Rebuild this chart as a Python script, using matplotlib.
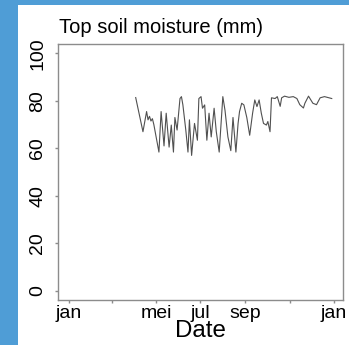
import numpy as np
import matplotlib
matplotlib.use('Agg')
import matplotlib.pyplot as plt
import matplotlib.patches as mpatches

# dag van het jaar (vanaf 1 jan) en bodemvocht bovenlaag (mm)
dag = [92, 102, 107, 109, 111, 113, 115, 117, 124, 127, 131, 134, 138, 141, 144,
       146, 149, 153, 155, 157, 161, 164, 166, 169, 173, 177, 179, 182, 184, 187,
       190, 193, 196, 200, 203, 207, 212, 215, 219, 223, 226, 230, 233, 235, 238,
       241, 245, 249, 253, 256, 259, 262, 265, 268, 272, 274, 277, 279, 284, 287,
       291, 293, 297, 303, 309, 314, 318, 323, 325, 330, 336, 341, 346, 352, 362]
vocht = [81.4, 67, 75.5, 72, 73.5, 71.5, 72.5, 70, 58.4, 75.5, 61, 74.8, 60.5, 69.8, 58.4,
         73, 67.7, 81, 81.8, 78.3, 67.7, 58.4, 72, 57, 70.5, 63.4, 81, 81.8, 76.9, 78.3,
         63.4, 74.8, 64.8, 76.9, 67, 58.4, 81.8, 76, 64.8, 59, 73, 58.4, 70.5, 75.5, 79,
         78.3, 73, 65.5, 74.8, 80.4, 77.6, 80.4, 74.8, 70.5, 69.8, 71.3, 67, 81.3, 81, 81.8,
         77.7, 81.3, 82, 81.5, 81.8, 81, 78.4, 77, 79, 82, 79, 78.4, 81.3, 81.8, 81]

maand_ticks = ['2019-01-01', '2019-03-01', '2019-05-01', '2019-07-01',
               '2019-09-01', '2019-11-01', '2020-01-01']
maand_labels = ['jan', '', 'mei', 'jul', 'sep', '', 'jan']
y_ticks = [0, 20, 40, 60, 80, 100]

start = np.datetime64('2019-01-01')
datums = start + np.array(dag).astype('timedelta64[D]')

W, H = 349, 345
fig = plt.figure(figsize=(W / 100, H / 100), dpi=100)
fig.patch.set_facecolor('#4f9dd6')
fig.patches.append(mpatches.Rectangle((18 / W, 0), 1, (H - 5) / H, transform=fig.transFigure,
                                      facecolor='white', edgecolor='none', zorder=-10))

ax = fig.add_axes([58 / W, 45 / H, (343 - 58) / W, (300 - 44) / H])
ax.set_zorder(5)
ax.set_facecolor('none')
ax.plot(datums, vocht, color='#505050', linewidth=0.8)

ax.set_xlim(start - np.timedelta64(15, 'D'), start + np.timedelta64(377, 'D') + np.timedelta64(12, 'h'))
ax.set_ylim(-4, 104)
ax.set_xticks(np.array(maand_ticks, dtype='datetime64[D]'))
ax.set_xticklabels(maand_labels)
ax.set_yticks(y_ticks)
ax.set_yticklabels([str(v) for v in y_ticks], rotation=90, va='center')

for s in ax.spines.values():
    s.set_color('#8c8c8c')
    s.set_linewidth(1.0)
ax.tick_params(axis='both', colors='#8c8c8c', length=2.5, width=1.0, labelcolor='black',
               labelsize=14)
ax.tick_params(axis='x', pad=1)
ax.tick_params(axis='y', pad=6)
for lab in ax.get_xticklabels() + ax.get_yticklabels():
    lab.set_fontfamily('Liberation Sans')

fig.text(59 / W, 1 - 33 / H, 'Top soil moisture (mm)', fontsize=14.5, family='Liberation Sans',
         ha='left', va='baseline', zorder=6)
fig.text(200.5 / W, 1 - 337 / H, 'Date', fontsize=17.4, family='Liberation Sans',
         ha='center', va='baseline', zorder=6)

fig.savefig('out.png', dpi=100, facecolor=fig.get_facecolor())
